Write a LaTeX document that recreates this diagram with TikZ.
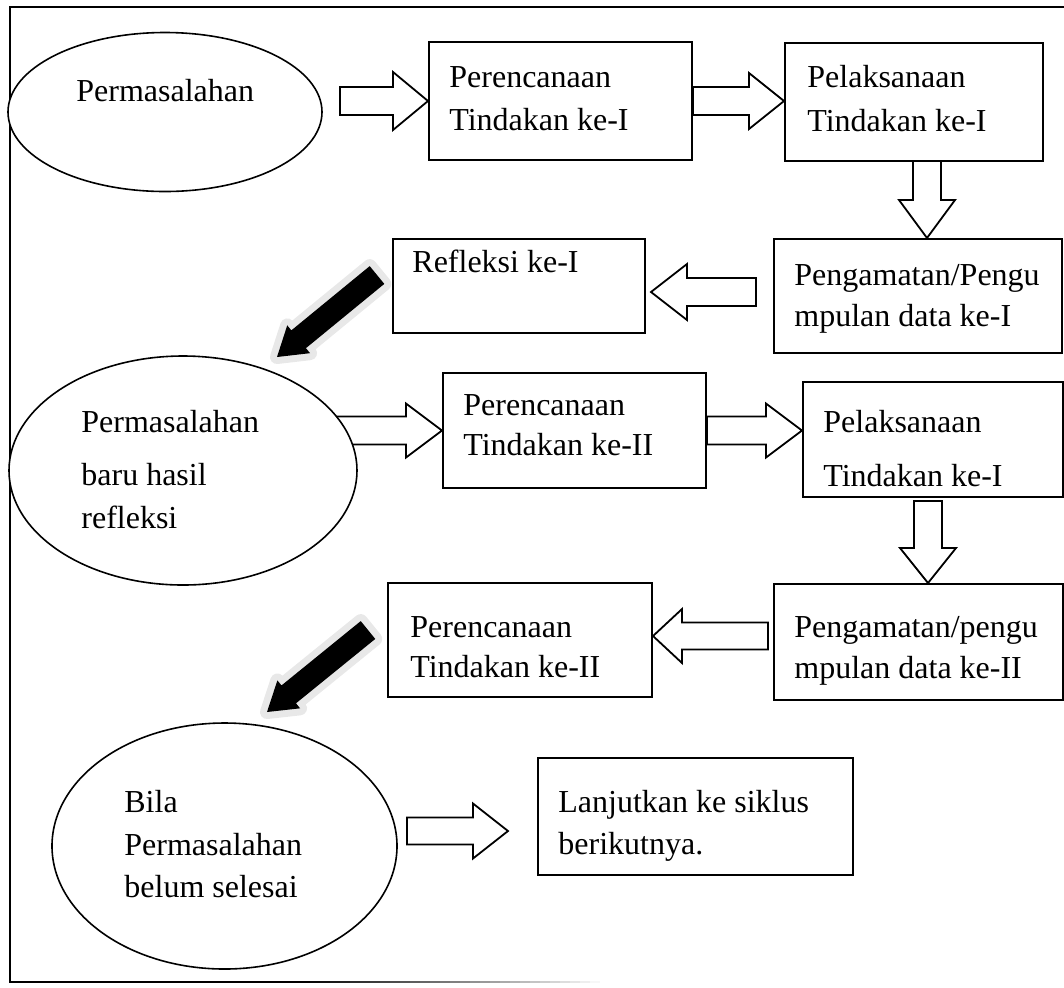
\documentclass[tikz,border=0pt]{standalone}
\usepackage{fontspec}
\setmainfont{Liberation Serif}
\usetikzlibrary{calc,shapes.geometric}
\pgfdeclarelayer{bg}
\pgfsetlayers{bg,main}
\tikzset{
  box/.style={draw, line width=1pt, rectangle, inner sep=0pt, fill=white},
  oval/.style={draw, ellipse, line width=0.8pt, inner sep=0pt, fill=white},
  txt/.style={anchor=base west, inner sep=0pt, font=\fontsize{16}{20}\selectfont},
  barrow/.style={draw, line width=0.9pt, fill=white, line join=miter},
  glow/.style={draw=black!9, line width=7pt, line join=round},
  frame/.style={line width=1.1pt},
}
% block (outlined) arrow: tail, tip, shaft half width, head half width, head length
\newcommand{\blockarrow}[5]{%
  \coordinate (hb) at ($(#2)!#5!(#1)$);
  \draw[barrow] ($(#1)!#3!90:(#2)$) -- ($(hb)!#3!-90:(#1)$) -- ($(hb)!#4!-90:(#1)$) -- (#2)
     -- ($(hb)!#4!90:(#1)$) -- ($(hb)!#3!90:(#1)$) -- ($(#1)!#3!-90:(#2)$) -- cycle;}
% solid black arrow with light halo
\newcommand{\fatarrow}[5]{%
  \coordinate (hb) at ($(#2)!#5!(#1)$);
  \draw[glow] ($(#1)!#3!90:(#2)$) -- ($(hb)!#3!-90:(#1)$) -- ($(hb)!#4!-90:(#1)$) -- (#2)
     -- ($(hb)!#4!90:(#1)$) -- ($(hb)!#3!90:(#1)$) -- ($(#1)!#3!-90:(#2)$) -- cycle;
  \fill[black] ($(#1)!#3!90:(#2)$) -- ($(hb)!#3!-90:(#1)$) -- ($(hb)!#4!-90:(#1)$) -- (#2)
     -- ($(hb)!#4!90:(#1)$) -- ($(hb)!#3!90:(#1)$) -- ($(#1)!#3!-90:(#2)$) -- cycle;}
\begin{document}
\begin{tikzpicture}[x=0.5pt, y=-0.5pt]
\useasboundingbox (0,0) rectangle (1064,987);

% shapes
\node[oval, minimum width=157pt, minimum height=79.5pt] (E1) at (165,112) {};
\node[oval, minimum width=174pt, minimum height=114.5pt] (E2) at (183,470.5) {};
\node[oval, minimum width=172.5pt, minimum height=123pt] (E3) at (224.5,846) {};

\node[box, minimum width=131.5pt, minimum height=59pt] (P1) at (560.5,101) {};
\node[box, minimum width=129pt, minimum height=59pt] (P2) at (914,102) {};
\node[box, minimum width=144pt, minimum height=57pt] (Pg1) at (918,296) {};
\node[box, minimum width=126pt, minimum height=47pt] (Rf) at (519,286) {};
\node[box, minimum width=131.5pt, minimum height=57.5pt] (PerA) at (574.5,430.5) {};
\node[box, minimum width=130pt, minimum height=57.5pt] (PelB) at (933,439.5) {};
\node[box, minimum width=132pt, minimum height=57pt] (PerB) at (520,640) {};
\node[box, minimum width=144.5pt, minimum height=58pt] (PgB) at (918.5,642) {};
\node[box, minimum width=157.5pt, minimum height=58.5pt] (Lj) at (695.5,816.5) {};

% texts
\node[txt] (tE1) at (76,101) {Permasalahan};
\node[txt] (tP1) at (449,87) {\begin{tabular}[t]{@{}l@{}}Perencanaan\\[1.5pt]Tindakan ke-I\end{tabular}};
\node[txt] (tP2) at (807,87) {\begin{tabular}[t]{@{}l@{}}Pelaksanaan\\[2pt]Tindakan ke-I\end{tabular}};
\node[txt] (tPg1) at (794,285) {\begin{tabular}[t]{@{}l@{}}Pengamatan/Pengu\\[0.5pt]mpulan data ke-I\end{tabular}};
\node[txt] (tRf) at (412,272) {Refleksi ke-I};
\node[txt] (tE2) at (81,432) {\begin{tabular}[t]{@{}l@{}}Permasalahan\\[6.5pt]baru hasil\\[1.5pt]refleksi\end{tabular}};
\node[txt] (tPerA) at (463,415) {\begin{tabular}[t]{@{}l@{}}Perencanaan\\[0pt]Tindakan ke-II\end{tabular}};
\node[txt] (tPelB) at (823,432) {\begin{tabular}[t]{@{}l@{}}Pelaksanaan\\[7pt]Tindakan ke-I\end{tabular}};
\node[txt] (tPerB) at (410,637) {\begin{tabular}[t]{@{}l@{}}Perencanaan\\[0pt]Tindakan ke-II\end{tabular}};
\node[txt] (tPgB) at (794,637) {\begin{tabular}[t]{@{}l@{}}Pengamatan/pengu\\[0.5pt]mpulan data ke-II\end{tabular}};
\node[txt] (tE3) at (124,812) {\begin{tabular}[t]{@{}l@{}}Bila\\[1.5pt]Permasalahan\\[1pt]belum selesai\end{tabular}};
\node[txt] (tLj) at (558,812) {\begin{tabular}[t]{@{}l@{}}Lanjutkan ke siklus\\[1pt]berikutnya.\end{tabular}};

% connector end points
\coordinate (a1t) at (340,101);
\coordinate (a2h) at (P2.west |- P1.east);
\coordinate (d1t) at (927,161);
\coordinate (d1h) at (d1t |- Pg1.north);
\coordinate (l1t) at (756,292);
\coordinate (l1h) at (651,292);
\coordinate (k1t) at (377,275);
\coordinate (k1h) at (277,357);
\coordinate (a5t) at (336,430.5);
\coordinate (a6h) at (PelB.west |- PerA.east);
\coordinate (d2t) at (928,501);
\coordinate (d2h) at (d2t |- PgB.north);
\coordinate (l2t) at (768,636);
\coordinate (l2h) at (PerB.east |- l2t);
\coordinate (k2t) at (368,630);
\coordinate (k2h) at (267,712);
\coordinate (a7t) at (407,831);
\coordinate (a7h) at (508,831);

\begin{pgfonlayer}{bg}
  % frame
  \draw[frame] (1064,7) -- (10,7) -- (10,982) -- (300,982);
  \foreach \i [evaluate=\i as \c using {100-\i*100/30}] in {0,...,29}
    \draw[frame, black!\c] ({300+\i*10},982) -- ({310+\i*10},982);
  % block arrows
  \blockarrow{a1t}{P1.west}{7pt}{14.5pt}{17.5pt}
  \blockarrow{P1.east}{a2h}{7pt}{14pt}{17.5pt}
  \blockarrow{d1t}{d1h}{7pt}{14pt}{19pt}
  \blockarrow{l1t}{l1h}{7pt}{14pt}{18pt}
  \blockarrow{a5t}{PerA.west}{7pt}{13.5pt}{18pt}
  \blockarrow{PerA.east}{a6h}{7pt}{13.5pt}{18pt}
  \blockarrow{d2t}{d2h}{7pt}{14pt}{17.5pt}
  \blockarrow{l2t}{l2h}{6.75pt}{13.5pt}{14.5pt}
  \blockarrow{a7t}{a7h}{6.75pt}{13.75pt}{17.5pt}
  % black arrows
  \fatarrow{k1t}{k1h}{5.75pt}{9pt}{14pt}
  \fatarrow{k2t}{k2h}{5.75pt}{9pt}{14pt}
\end{pgfonlayer}
\end{tikzpicture}
\end{document}
